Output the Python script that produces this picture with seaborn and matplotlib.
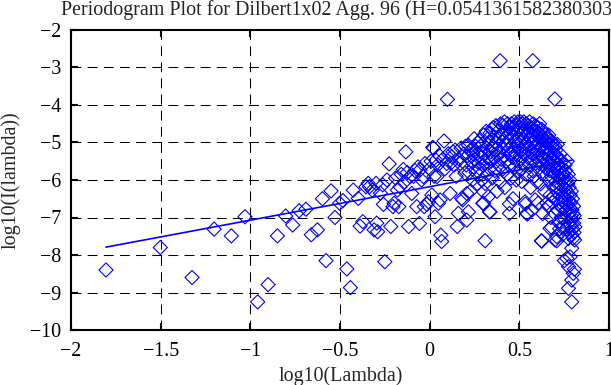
import matplotlib
matplotlib.use("Agg")
import matplotlib.pyplot as plt
import seaborn as sns
import pandas as pd

# ---------------- data ----------------
title = "Periodogram Plot for Dilbert1x02 Agg. 96 (H=0.0541361582380303)"
x_label = "log10(Lambda)"
y_label = "log10(I(lambda))"

x_ticks = [-2, -1.5, -1, -0.5, 0, 0.5, 1]
x_tick_labels = ["\u22122", "\u22121.5", "\u22121", "\u22120.5", "0", "0.5", "1"]
y_ticks = [-10, -9, -8, -7, -6, -5, -4, -3, -2]
y_tick_labels = ["\u221210", "\u22129", "\u22128", "\u22127", "\u22126", "\u22125", "\u22124", "\u22123", "\u22122"]

# low frequencies (sparse part)
low_x = [-1.805, -1.502, -1.325, -1.202, -1.106, -1.03, -0.959, -0.901, -0.849, -0.803,
         -0.764, -0.728, -0.69, -0.66, -0.626, -0.598, -0.578, -0.55, -0.528, -0.502,
         -0.484, -0.462, -0.442, -0.426, -0.398, -0.388, -0.373, -0.355, -0.343]
low_y = [-8.40, -7.80, -8.60, -7.31, -7.49, -6.98, -9.25, -8.79, -7.49, -6.96,
         -7.20, -6.82, -6.78, -7.46, -7.33, -6.50, -8.15, -6.29, -7.00, -6.62,
         -6.55, -8.37, -8.87, -6.27, -6.49, -7.23, -7.11, -6.18, -6.09]

# middle frequencies
mid_x = [-0.336, -0.32, -0.31, -0.299, -0.295, -0.29, -0.275, -0.262, -0.258, -0.25,
         -0.238, -0.226, -0.217, -0.205, -0.198, -0.19, -0.18, -0.172, -0.165, -0.158,
         -0.147, -0.14, -0.133, -0.125, -0.117, -0.109, -0.10, -0.09, -0.082, -0.072,
         -0.065, -0.057, -0.054, -0.045, -0.035, -0.03, -0.026, -0.016, -0.007, 0.0,
         0.008, 0.012, 0.017, 0.021, 0.025, 0.03, 0.035, 0.04, 0.045, 0.049,
         0.055, 0.058, 0.062, 0.067, 0.072, 0.08, 0.085, 0.095, 0.099, 0.105,
         0.114, 0.118, 0.123, 0.13, 0.136, 0.142, 0.148, 0.154, 0.16, 0.165,
         0.17, 0.175, 0.179, 0.184, 0.19, 0.197, 0.2]
mid_y = [-6.18, -6.27, -7.33, -6.09, -7.15, -7.38, -6.35, -6.13, -6.65, -8.18,
         -6.00, -5.57, -7.24, -6.71, -6.62, -5.95, -6.27, -6.71, -6.18, -5.85,
         -5.72, -6.05, -5.25, -5.80, -7.24, -5.91, -6.36, -5.90, -5.75, -6.71,
         -5.65, -7.16, -5.73, -6.00, -5.91, -6.71, -5.56, -6.65, -6.58, -5.70,
         -5.50, -6.40, -5.13, -5.15, -5.90, -6.98, -5.47, -5.91, -5.60, -6.62,
         -5.35, -6.53, -7.47, -7.64, -5.45, -4.96, -5.70, -5.56, -3.85, -5.30,
         -6.36, -5.55, -5.38, -5.25, -5.60, -5.20, -5.90, -7.24, -6.89, -5.45,
         -5.56, -5.15, -6.49, -6.53, -5.30, -5.82, -5.10]

# high frequencies (dense part)
high_x = [0.204, 0.207, 0.207, 0.212, 0.216, 0.216, 0.22, 0.225, 0.229, 0.233, 0.238, 0.242, 0.245, 0.248,
          0.252, 0.256, 0.259, 0.263, 0.267, 0.27, 0.274, 0.278, 0.281, 0.285, 0.288, 0.292, 0.295, 0.296, 0.298,
          0.30, 0.30, 0.302, 0.305, 0.309, 0.309, 0.312, 0.315, 0.318, 0.321, 0.324, 0.327, 0.328, 0.33, 0.333,
          0.334, 0.337, 0.337, 0.34, 0.343, 0.346, 0.349,
          0.352, 0.355, 0.357, 0.36, 0.363, 0.366, 0.369, 0.372, 0.375, 0.378, 0.381, 0.384, 0.387, 0.39,
          0.393, 0.393, 0.396, 0.399,
          0.402, 0.404, 0.407, 0.409, 0.412, 0.414, 0.417, 0.419, 0.422, 0.424, 0.427, 0.429, 0.432, 0.434,
          0.437, 0.439, 0.442, 0.445, 0.445, 0.447, 0.449,
          0.452, 0.454, 0.456, 0.458, 0.461, 0.463, 0.465, 0.467, 0.47, 0.472, 0.474, 0.476, 0.479, 0.481,
          0.483, 0.485, 0.488, 0.49, 0.492, 0.494, 0.496, 0.498,
          0.502, 0.504, 0.506, 0.508, 0.51, 0.513, 0.515, 0.517, 0.519, 0.521, 0.523, 0.525, 0.527, 0.529,
          0.532, 0.534, 0.536, 0.538, 0.54, 0.541, 0.543, 0.545, 0.547, 0.549,
          0.551, 0.553, 0.555, 0.557, 0.559, 0.561, 0.563, 0.565, 0.567, 0.569, 0.57, 0.571, 0.573, 0.575,
          0.577, 0.579, 0.581, 0.583, 0.585, 0.587, 0.588, 0.59, 0.592, 0.594, 0.596, 0.598, 0.599,
          0.601, 0.603, 0.604, 0.605, 0.607, 0.609, 0.611, 0.613, 0.615, 0.617, 0.619, 0.621, 0.623, 0.624,
          0.625, 0.626, 0.628, 0.63, 0.63, 0.632, 0.634, 0.636, 0.638, 0.64, 0.642, 0.644, 0.646, 0.648,
          0.65, 0.652, 0.653,
          0.654, 0.656, 0.658, 0.66, 0.66, 0.662, 0.664, 0.666, 0.668, 0.67, 0.671, 0.672, 0.674, 0.675,
          0.676, 0.678, 0.679, 0.68, 0.682, 0.684, 0.686, 0.688, 0.688, 0.69, 0.692, 0.694, 0.696, 0.697,
          0.698, 0.699, 0.699,
          0.701, 0.702, 0.704, 0.705, 0.707, 0.708, 0.709, 0.709, 0.71, 0.712, 0.713, 0.715, 0.716, 0.718,
          0.72, 0.721, 0.723, 0.724, 0.725, 0.726, 0.728, 0.729, 0.731, 0.732, 0.734, 0.735, 0.737, 0.738,
          0.74, 0.741, 0.742, 0.743, 0.744, 0.746, 0.747, 0.749, 0.751,
          0.752, 0.753, 0.755, 0.756, 0.758, 0.759, 0.761, 0.762, 0.764, 0.765, 0.765, 0.767, 0.768, 0.77,
          0.771, 0.773, 0.774, 0.774, 0.774, 0.775, 0.776, 0.778, 0.779, 0.781, 0.782, 0.783, 0.784, 0.785,
          0.787, 0.788, 0.79, 0.791, 0.792, 0.792, 0.792, 0.793, 0.794, 0.796, 0.797, 0.799, 0.8, 0.801,
          0.802, 0.803, 0.805, 0.806, 0.807, 0.808, 0.81]
high_y = [-5.60, -7.07, -6.36, -5.35, -5.07, -6.85, -5.80, -6.31, -5.20, -5.50, -6.00, -5.30, -5.65, -4.90,
          -5.45, -5.10, -5.80, -5.30, -6.10, -5.00, -5.55, -4.95, -5.70, -5.25, -5.40, -6.00, -5.05, -6.62, -5.60,
          -6.31, -6.62, -4.80, -5.30, -6.09, -7.62, -5.55, -4.70, -5.15, -5.85, -4.90, -5.40, -6.44, -5.00, -6.85,
          -5.70, -4.75, -6.85, -5.25, -5.50, -4.65, -5.95,
          -5.10, -4.60, -5.40, -4.85, -5.75, -5.20, -4.55, -5.00, -6.30, -5.35, -4.70, -5.60, -4.90, -5.25,
          -2.82, -6.05, -4.50, -5.45,
          -4.80, -5.15, -4.55, -5.70, -4.95, -5.35, -4.45, -6.20, -5.05, -4.70, -5.50, -4.85, -5.85, -4.50,
          -5.20, -4.95, -5.60, -6.64, -6.89, -4.60, -5.30,
          -4.75, -5.95, -4.50, -5.10, -5.40, -4.85, -6.50, -4.60, -5.25, -4.45, -5.65, -4.95, -5.30, -4.55,
          -6.00, -5.05, -4.70, -5.50, -4.45, -5.80, -4.90, -5.15,
          -4.60, -5.35, -4.45, -5.00, -5.70, -6.04, -4.75, -5.20, -4.50, -5.55, -4.90, -4.45, -5.30, -4.65,
          -6.58, -6.64, -5.05, -4.50, -5.85, -6.89, -4.80, -6.91, -5.40, -4.55,
          -5.10, -4.70, -5.60, -4.45, -5.25, -4.90, -6.20, -4.60, -5.45, -4.80, -6.80, -5.00, -5.75, -2.82,
          -4.50, -5.30, -4.65, -5.90, -4.95, -5.15, -6.53, -4.55, -5.55, -4.80, -5.05, -6.05, -4.70,
          -5.35, -4.60, -6.62, -5.00, -5.70, -4.75, -5.20, -4.50, -5.50, -4.90, -6.10, -5.10, -7.62, -4.65,
          -7.63, -5.40, -4.85, -5.85, -6.90, -5.05, -4.70, -5.60, -5.25, -4.95, -6.30, -5.45, -4.80, -5.15,
          -5.70, -5.00, -6.62,
          -5.30, -4.90, -5.55, -5.15, -6.70, -6.00, -4.80, -5.40, -5.75, -5.05, -7.29, -6.40, -5.25, -7.00,
          -4.95, -5.60, -7.26, -5.90, -5.10, -6.60, -5.45, -5.00, -6.45, -5.80, -6.20, -5.30, -5.65, -6.90,
          -3.84, -5.10, -7.60,
          -5.50, -6.05, -5.20, -6.50, -5.75, -5.35, -7.62, -7.51, -6.20, -5.05, -6.80, -5.60, -5.90, -6.35,
          -5.45, -7.10, -5.80, -6.10, -7.30, -5.30, -6.60, -5.95, -6.30, -5.65, -7.00, -6.15, -5.50, -6.75,
          -6.00, -5.80, -7.45, -6.45, -7.25, -5.85, -6.60, -6.20, -8.15,
          -5.95, -6.50, -5.60, -7.05, -6.25, -5.75, -6.80, -6.00, -7.30, -6.40, -8.09, -5.50, -6.65, -6.10,
          -7.15, -5.85, -8.31, -7.56, -8.89, -6.55, -6.90, -6.20, -7.40, -6.00, -6.75, -8.05, -6.40, -7.20,
          -6.60, -6.95, -6.30, -7.45, -7.82, -8.67, -9.25, -6.80, -7.05, -6.50, -7.30, -6.90, -7.55, -8.49,
          -6.70, -7.15, -7.40, -6.95, -8.38, -7.60, -7.25]

# least-squares fit line (end points)
fit_x = [-1.805, 0.794]
fit_y = [-7.79, -5.47]

# ---------------- build table ----------------
points = pd.DataFrame({
    "log_lambda": low_x + mid_x + high_x,
    "log_I": low_y + mid_y + high_y,
})
fit = pd.DataFrame({"log_lambda": fit_x, "log_I": fit_y})

# ---------------- figure ----------------
sns.set_style("white")
plt.rcParams["font.family"] = ["Liberation Serif", "DejaVu Serif"]
FS = 14.4
plt.rcParams["font.size"] = FS

W, H = 611, 385
fig = plt.figure(figsize=(W / 100, H / 100), dpi=100)
ax = fig.add_axes([71 / W, 1 - 330 / H, (609 - 71) / W, 300 / H])

blue = "#0000ff"
sns.scatterplot(data=points, x="log_lambda", y="log_I", ax=ax, marker="D", s=52,
                facecolor="none", edgecolor=blue, linewidth=0.8, zorder=3, legend=False)
sns.lineplot(data=fit, x="log_lambda", y="log_I", ax=ax, color=blue, linewidth=1.2,
             zorder=4, legend=False)

ax.set_xlim(-2, 1)
ax.set_ylim(-10, -2)
ax.set_xticks(x_ticks)
ax.set_xticklabels(x_tick_labels)
ax.set_yticks(y_ticks)
ax.set_yticklabels(y_tick_labels)
ax.set_xlabel("")
ax.set_ylabel("")

# dashed grid
for gx in x_ticks[1:-1]:
    ax.axvline(gx, color="black", linewidth=0.75, linestyle=(0, (9.5, 6.0)), zorder=1)
for gy in y_ticks[1:-1]:
    ax.axhline(gy, color="black", linewidth=0.75, linestyle=(0, (9.5, 6.0)), zorder=1)

for sp in ax.spines.values():
    sp.set_visible(True)
    sp.set_linewidth(1.5)
    sp.set_color("black")
    sp.set_zorder(5)

ax.tick_params(axis="both", which="major", direction="in", length=5, width=1.5,
               top=True, right=True, bottom=True, left=True, labelsize=FS, colors="black")
ax.tick_params(axis="x", pad=9)
ax.tick_params(axis="y", pad=7)

fig.text(61 / W, 1 - 0 / H, title, ha="left", va="top", fontsize=FS)
fig.text(341 / W, 1 - 376 / H, x_label, ha="center", va="center", fontsize=FS)
fig.text(11 / W, 1 - 180 / H, y_label, ha="center", va="center", rotation=90, fontsize=FS)

fig.savefig("out.png", dpi=100)
